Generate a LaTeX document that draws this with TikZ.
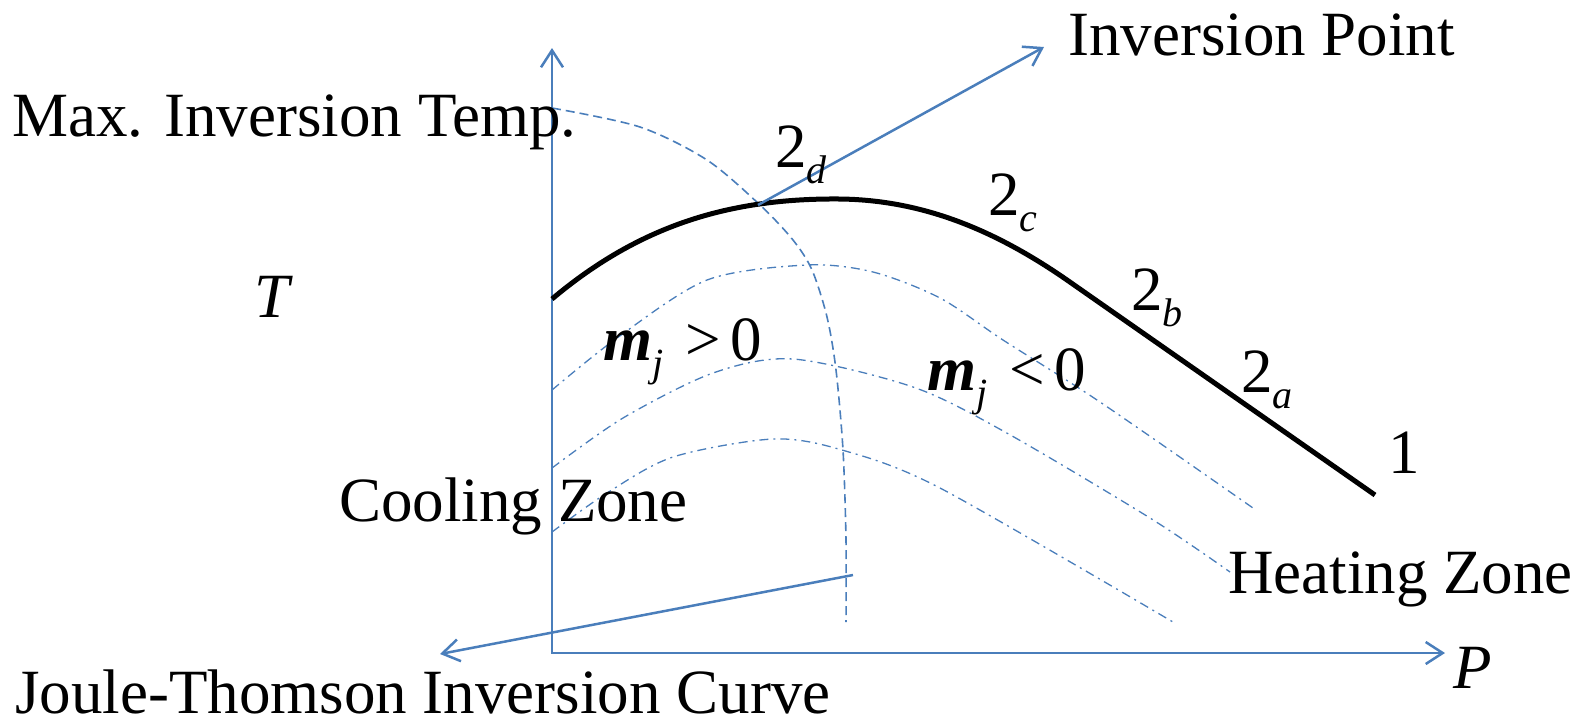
\documentclass[tikz,border=0pt]{standalone}
\usepackage{fontspec}
\setmainfont{Liberation Serif}
\usetikzlibrary{arrows.meta}
\definecolor{jtblue}{RGB}{74,126,187}
\newcommand{\sbs}[1]{\raisebox{-16pt}{\fontsize{40}{40}\selectfont\itshape #1}}
\tikzset{
  lbl/.style={anchor=base west,inner sep=0pt,font=\fontsize{63}{75}\selectfont},
  bluearrow/.style={jtblue,line width=2.5pt,-{Straight Barb[length=17pt,width=22pt]}},
  isenth/.style={jtblue,line width=1.3pt,dash pattern=on 9pt off 5pt on 2pt off 5pt},
}
\begin{document}
\begin{tikzpicture}[x=1pt,y=-1pt]
  \useasboundingbox (0,0) rectangle (1579,724);
  % 座標軸
  \coordinate (O) at (552,653);
  \coordinate (Ttip) at (552,48);
  \coordinate (Ptip) at (1445,653);
  \draw[jtblue,line width=2.5pt,{Straight Barb[length=17pt,width=22pt]}-{Straight Barb[length=17pt,width=22pt]}] (Ttip) -- (O) -- (Ptip);
  \node[lbl] (Tlab) at (254,317) {\itshape T};
  \node[lbl] (Plab) at (1453,688) {\itshape P};
  % 等エンタルピー線 (一点鎖線)
  \draw[isenth] plot[smooth] coordinates {(552,390) (617,338) (707,280) (807,265) (873,272) (940,298) (1003,340) (1100,402) (1253,508)};
  \draw[isenth] plot[smooth] coordinates {(552,468) (623,418) (713,373) (793,359) (913,387) (1005,432) (1150,518) (1230,572)};
  \draw[isenth] plot[smooth] coordinates {(552,532) (607,493) (673,457) (773,439) (842,450) (940,488) (1173,622)};
  % 逆転曲線 (破線)
  \draw[jtblue,line width=1.6pt,dash pattern=on 9pt off 5pt] plot[smooth] coordinates {(552,108) (640,127) (707,160) (760,205) (793,240) (812,270) (827,317) (836,370) (843,450) (846,540) (846,622)};
  % 1 -> 2 の過程 (太線)
  \coordinate (st1pt) at (1375,495);
  \coordinate (left) at (552,299);
  \draw[line width=5pt] (left) .. controls (640,225) and (730,198) .. (840,199)
    .. controls (920,200) and (992,228) .. (1067,280) -- (st1pt);
  % 逆転点と逆転曲線への矢印
  \coordinate (invpt) at (758,205);
  \coordinate (invtip) at (1044,47);
  \draw[bluearrow] (invpt) -- (invtip);
  \coordinate (jtstart) at (853,575);
  \coordinate (jttip) at (440,654);
  \draw[bluearrow] (jtstart) -- (jttip);
  % ラベル
  \node[lbl] (maxT) at (12,136) {Max. Inversion Temp.};
  \node[lbl] (invlab) at (1068,55) {Inversion Point};
  \node[lbl] (st2d) at (775,167) {2\sbs{d}};
  \node[lbl] (st2c) at (988,215) {2\sbs{c}};
  \node[lbl] (st2b) at (1131,310) {2\sbs{b}};
  \node[lbl] (st2a) at (1241,392) {2\sbs{a}};
  \node[lbl] (st1) at (1388,473) {1};
  \node[lbl] (mjpos) at (603,360) {{\bfseries\itshape m}\sbs{j}\hspace{22pt}>\hspace{10pt}0};
  \node[lbl] (mjneg) at (927,390) {{\bfseries\itshape m}\sbs{j}\hspace{22pt}<\hspace{10pt}0};
  \node[lbl] (cool) at (339,521) {Cooling Zone};
  \node[lbl] (heat) at (1228,593) {Heating Zone};
  \node[lbl] (jtlab) at (15,713) {Joule-Thomson Inversion Curve};
\end{tikzpicture}
\end{document}
